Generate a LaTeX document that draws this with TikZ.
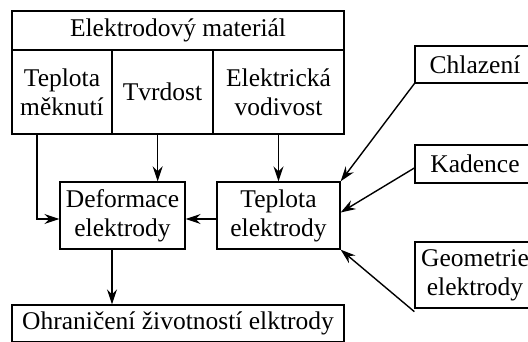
\documentclass[tikz,border=0pt]{standalone}
\usepackage{fontspec}
\setmainfont{Liberation Serif}
\usetikzlibrary{arrows.meta,calc}
\begin{document}
\begin{tikzpicture}[x=1pt,y=-1pt,
  box/.style={draw,line width=1.3pt,inner sep=0pt,align=center,font=\fontsize{25.5}{29}\selectfont},
  arr/.style={line width=1.4pt,-{Stealth[length=15pt,width=10pt,inset=5pt]}}]
\useasboundingbox (0,0) rectangle (528,342);
\node[box,minimum width=332pt,minimum height=39pt] (mat) at (178,30.5) {Elektrodový materiál};
\node[box,minimum width=100pt,minimum height=84pt] (c1) at (62,92) {Teplota\\měknutí};
\node[box,minimum width=101pt,minimum height=84pt] (c2) at (162.5,92) {Tvrdost};
\node[box,minimum width=131pt,minimum height=84pt] (c3) at (278.5,92) {Elektrická\\vodivost};
\node[box,minimum width=125pt,minimum height=67pt] (def) at (122.5,215.5) {Deformace\\elektrody};
\node[box,minimum width=123pt,minimum height=67pt] (tep) at (278.5,215.5) {Teplota\\elektrody};
\node[box,minimum width=332pt,minimum height=37pt] (ohr) at (178,323.5) {Ohraničení životností elktrody};
\node[box,minimum width=120pt,minimum height=37pt] (chl) at (475,64.5) {Chlazení};
\node[box,minimum width=120pt,minimum height=38pt] (kad) at (475,164) {Kadence};
\node[box,minimum width=120pt,minimum height=66pt] (geo) at (475,275) {Geometrie\\elektrody};
% arrows
\coordinate (a1) at (37,134);
\draw[arr] (a1) |- ([yshift=-3.5pt]def.west);
\coordinate (a2) at ($(def.north east)+(-28,0)$);
\draw[arr] (a2 |- c2.south) -- (a2);
\draw[arr] (c3.south) -- (tep.north);
\draw[arr] ([yshift=-3.5pt]tep.west) -- ([yshift=-3.5pt]def.east);
\coordinate (a3) at ($(def.south)+(-10.5,0)$);
\draw[arr] (a3) -- (a3 |- ohr.north);
\draw[arr] (chl.south west) -- (tep.north east);
\draw[arr] ([yshift=-4pt]kad.west) -- ([yshift=3pt]tep.east);
\draw[arr] ([yshift=-3pt]geo.south west) -- (tep.south east);
\end{tikzpicture}
\end{document}
